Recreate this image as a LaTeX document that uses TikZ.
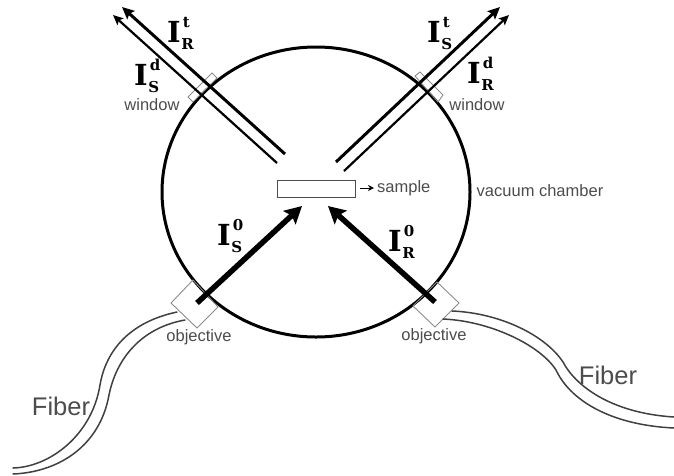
\documentclass[tikz,border=0pt]{standalone}
\usepackage{fontspec}
\usetikzlibrary{arrows.meta}
\newfontfamily\lblsans{Liberation Sans}
\newfontfamily\lblserif{DejaVu Serif}
\newcommand{\beamlab}[2]{{\lblserif\bfseries\fontsize{29}{29}\selectfont I\hspace{0.5pt}\rlap{\raisebox{15pt}{\hspace{1.5pt}\fontsize{15}{15}\selectfont #2}}\raisebox{-7pt}{\fontsize{15}{15}\selectfont #1}}}
\tikzset{
  x=1pt,y=-1pt,
  chamber/.style={draw=black,line width=3pt},
  optic/.style={draw=black!45,line width=0.9pt,line join=miter},
  beamin/.style={draw=black,line width=5.5pt,-{Stealth[length=17pt,width=18pt,inset=3pt]},shorten >=0pt},
  beamt/.style={draw=black,line width=3pt,-{Stealth[length=12pt,width=11pt,inset=2pt]}},
  beamd/.style={draw=black,line width=2.2pt,-{Stealth[length=10pt,width=9pt,inset=2pt]}},
  fiberline/.style={draw=black!75,line width=1.5pt,line cap=round},
  smalllab/.style={inner sep=0pt,text=black!70,font=\lblsans\fontsize{16.5}{16.5}\selectfont},
  fiberlab/.style={inner sep=0pt,text=black!70,font=\lblsans\fontsize{25.5}{25.5}\selectfont},
  beamlabel/.style={inner sep=0pt,anchor=base west},
  samplebox/.style={draw=black!70,line width=1.5pt,fill=white}
}
\begin{document}
\begin{tikzpicture}
\useasboundingbox (0,0) rectangle (674,475);
% chamber
\draw[chamber] (316,192) ellipse [x radius=154,y radius=145];
% windows
\draw[optic] (188,97) -- (212,73) -- (217,78) -- (193,102) -- cycle;
\draw[optic] (415,76) -- (420,72) -- (443,95) -- (438,102) -- cycle;
% objectives
\draw[optic] (171,303) -- (193,280) -- (218,307) -- (197,328) -- cycle;
\draw[optic] (459,303) -- (437,282) -- (413,306) -- (435,327) -- cycle;
% sample
\node[samplebox,minimum width=78pt,minimum height=17pt,inner sep=0pt] (sample) at (316.5,189) {};
\node[smalllab,anchor=west] (samplelab) at (377,188) {sample};
\coordinate (sampleTail) at (360,188);
\draw[draw=black,line width=1pt,-{Stealth[length=6pt,width=6pt]},shorten >=3pt] (sampleTail) -- (samplelab.west);
% beam end points
\coordinate (rtA) at (285,154); \coordinate (rtB) at (122,7);
\coordinate (sdA) at (277,163); \coordinate (sdB) at (113,15);
\coordinate (stA) at (336,162); \coordinate (stB) at (500,7);
\coordinate (rdA) at (344,171); \coordinate (rdB) at (509,15);
\coordinate (s0A) at (197,303); \coordinate (s0B) at (302,206);
\coordinate (r0A) at (435,302); \coordinate (r0B) at (328,206);
\draw[beamt] (rtA) -- (rtB);
\draw[beamd] (sdA) -- (sdB);
\draw[beamt] (stA) -- (stB);
\draw[beamd] (rdA) -- (rdB);
\draw[beamin] (s0A) -- (s0B);
\draw[beamin] (r0A) -- (r0B);
% fibers
\draw[fiberline] (177,312) .. controls (130,322) and (106,350) .. (100,385) .. controls (92,435) and (50,467) .. (13,468);
\draw[fiberline] (185,320) .. controls (140,328) and (116,360) .. (109,395) .. controls (100,445) and (60,472) .. (13,474);
\draw[fiberline] (452,311) .. controls (500,313) and (545,335) .. (563,362) .. controls (575,385) and (610,413) .. (674,417);
\draw[fiberline] (443,319) .. controls (490,321) and (540,345) .. (556,370) .. controls (570,400) and (610,425) .. (674,428);
% labels
\node[beamlabel] (lrt) at (167,42) {\beamlab{R}{t}};
\node[beamlabel] (lsd) at (134,85) {\beamlab{S}{d}};
\node[beamlabel] (lst) at (427,42) {\beamlab{S}{t}};
\node[beamlabel] (lrd) at (467,83) {\beamlab{R}{d}};
\node[beamlabel] (ls0) at (217,245) {\beamlab{S}{0}};
\node[beamlabel] (lr0) at (388,251) {\beamlab{R}{0}};
\node[smalllab] (w1) at (152,105) {window};
\node[smalllab] (w2) at (477,105) {window};
\node[smalllab] (o1) at (199,337) {objective};
\node[smalllab] (o2) at (434,336) {objective};
\node[smalllab] (vc) at (540,191) {vacuum chamber};
\node[fiberlab] (f1) at (61,406) {Fiber};
\node[fiberlab] (f2) at (608,375) {Fiber};
\end{tikzpicture}
\end{document}
